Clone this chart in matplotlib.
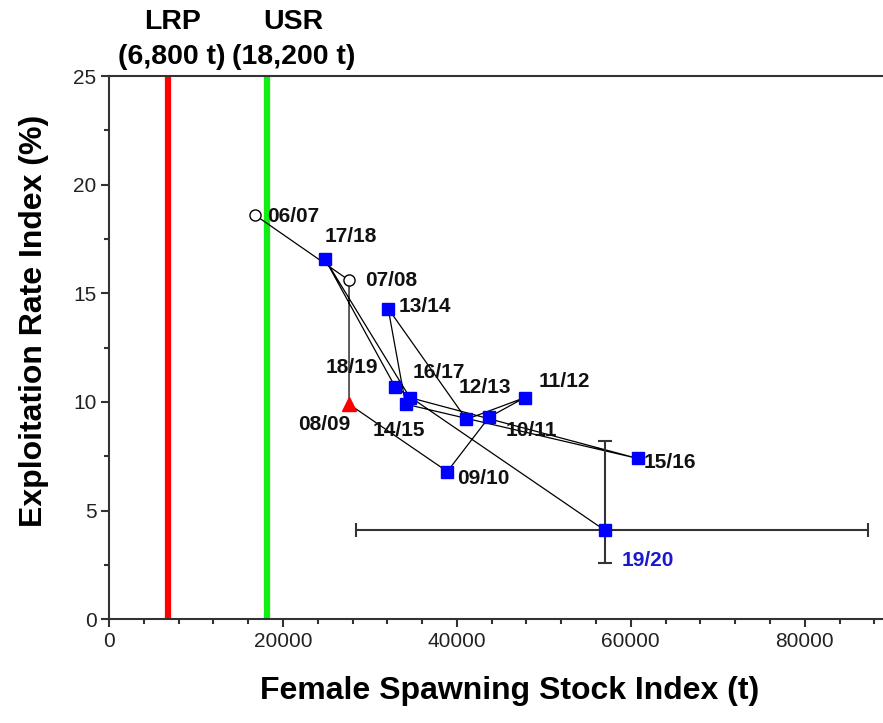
import matplotlib
matplotlib.use("Agg")
import matplotlib.pyplot as plt
from matplotlib.ticker import MultipleLocator

plt.rcParams['font.family'] = ['Liberation Sans', 'DejaVu Sans']

# ---- data ----
years = ['06/07', '07/08', '08/09', '09/10', '10/11', '11/12', '12/13',
         '13/14', '14/15', '15/16', '16/17', '17/18', '18/19', '19/20']
ssb = [16800, 27600, 27600, 38900, 43700, 47800, 41100,
       32100, 34100, 60800, 34600, 24800, 32900, 57000]
er = [18.6, 15.6, 9.9, 6.8, 9.3, 10.2, 9.2,
      14.3, 9.9, 7.4, 10.2, 16.6, 10.7, 4.1]

ssb_ci_last = [28400, 87300]
er_ci_last = [2.6, 8.2]

ref_values = [6800, 18200]
ref_names = ['LRP', 'USR']
ref_units = ['(6,800 t)', '(18,200 t)']
ref_colors = ['#ff0000', '#11ee11']

# ---- label layout (offsets in points) ----
label_layout = {
    '06/07': ('left', 8.6, -0.7),
    '07/08': ('left', 11.5, 0.0),
    '08/09': ('right', 0.7, -14.4),
    '09/10': ('left', 7.2, -4.7),
    '10/11': ('left', 12.2, -9.4),
    '11/12': ('left', 10.1, 11.5),
    '12/13': ('left', -5.8, 23.0),
    '13/14': ('left', 7.2, 1.8),
    '14/15': ('right', 14.4, -18.7),
    '15/16': ('left', 4.3, -3.2),
    '16/17': ('left', 1.7, 18.0),
    '17/18': ('left', 0.0, 15.8),
    '18/19': ('right', -12.2, 13.7),
    '19/20': ('left', 12.2, -21.6),
}

fig = plt.figure(figsize=(8.83, 7.23), dpi=100)
ax = fig.add_axes([109 / 883, (723 - 619.3) / 723, (883 - 109) / 883, (619.3 - 76) / 723])

ax.set_xlim(0, 89000)
ax.set_ylim(0, 25)

# reference lines
for v, c in zip(ref_values, ref_colors):
    ax.axvline(v, color=c, lw=4.5, zorder=1)

# trajectory
ax.plot(ssb, er, color='black', lw=0.9, zorder=2)

# error bars for last year
ax.errorbar([ssb[-1]], [er[-1]],
            xerr=[[ssb[-1] - ssb_ci_last[0]], [ssb_ci_last[1] - ssb[-1]]],
            yerr=[[er[-1] - er_ci_last[0]], [er_ci_last[1] - er[-1]]],
            fmt='none', ecolor='#333333', elinewidth=1.5, capsize=5, capthick=1.5, zorder=2)

# markers
ax.plot(ssb[:2], er[:2], linestyle='none', marker='o', ms=8, mfc='white', mec='black', mew=1.0, zorder=4)
ax.plot(ssb[2:3], er[2:3], linestyle='none', marker='^', ms=10, mfc='#ff0000', mec='#ff0000', zorder=4)
ax.plot(ssb[3:], er[3:], linestyle='none', marker='s', ms=9, mfc='#0000ff', mec='#0000ff', zorder=4)

# year labels
for yr, x, y in zip(years, ssb, er):
    ha, dx, dy = label_layout[yr]
    col = '#1a1acc' if yr == years[-1] else '#111111'
    ax.annotate(yr, xy=(x, y), xytext=(dx, dy), textcoords='offset points',
                ha=ha, va='center', fontsize=15, fontweight='bold', color=col, zorder=5)

# reference labels above axes
ref_dx = [2.9, 18.7]
for v, name, unit, dx in zip(ref_values, ref_names, ref_units, ref_dx):
    ax.annotate(name, xy=(v, 1), xycoords=('data', 'axes fraction'), xytext=(dx, 38.9),
                textcoords='offset points', ha='center', va='center',
                fontsize=20.5, fontweight='bold', annotation_clip=False)
    ax.annotate(unit, xy=(v, 1), xycoords=('data', 'axes fraction'), xytext=(dx, 13.7),
                textcoords='offset points', ha='center', va='center',
                fontsize=20.5, fontweight='bold', annotation_clip=False)

# axes styling
for s in ['left', 'bottom', 'top']:
    ax.spines[s].set_color('#333333')
    ax.spines[s].set_linewidth(1.5)
ax.spines['right'].set_visible(False)

ax.xaxis.set_major_locator(MultipleLocator(20000))
ax.xaxis.set_minor_locator(MultipleLocator(4000))
ax.yaxis.set_major_locator(MultipleLocator(5))
ax.yaxis.set_minor_locator(MultipleLocator(2.5))
ax.tick_params(which='major', direction='out', length=6, width=1.5, color='#333333',
               labelsize=15, pad=3, labelcolor='#222222')
ax.tick_params(which='minor', direction='out', length=3.5, width=1.5, color='#333333')
ax.tick_params(top=False, right=False, which='both')

ax.set_xlabel('Female Spawning Stock Index (t)', fontsize=23, fontweight='bold')
ax.set_ylabel('Exploitation Rate Index (%)', fontsize=23, fontweight='bold')
ax.xaxis.set_label_coords(0.517, -0.104)
ax.xaxis.label.set_va('top')
ax.yaxis.set_label_coords(-0.078, 0.55)

fig.savefig('out.png', dpi=100)
